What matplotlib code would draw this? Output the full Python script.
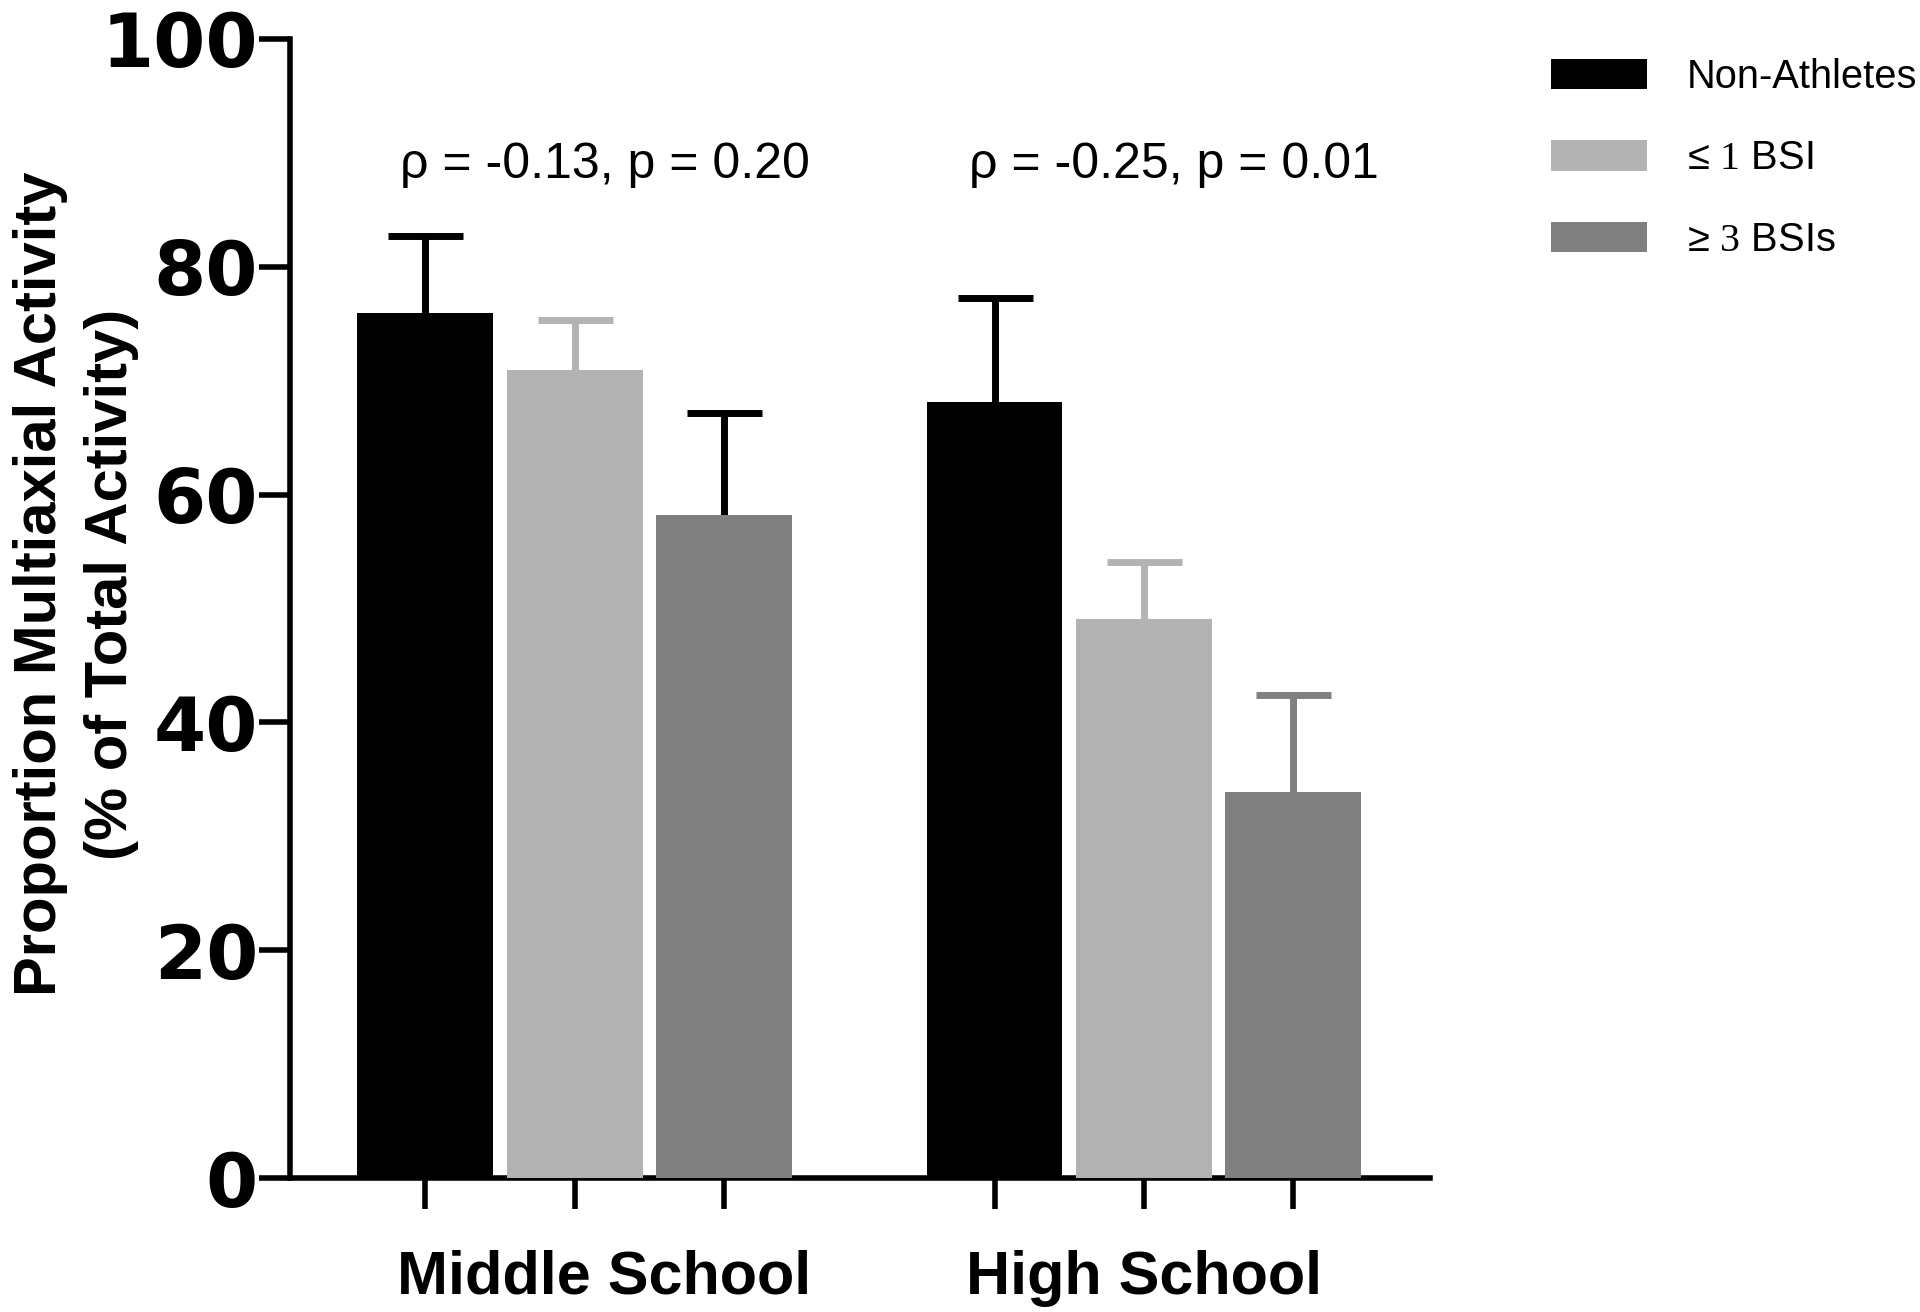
import numpy as np
import matplotlib
matplotlib.use("Agg")
import matplotlib.pyplot as plt

plt.rcParams['mathtext.fontset'] = 'custom'
plt.rcParams['mathtext.rm'] = 'Liberation Serif'

groups = ['Middle School', 'High School']
series = ['Non-Athletes', r'≤ $\mathrm{1}$ BSI', r'≥ $\mathrm{3}$ BSIs']
means = [[75.9, 68.1],
         [70.9, 49.1],
         [58.2, 33.9]]
sems = [[6.8, 9.2],
        [4.4, 5.0],
        [9.0, 8.5]]
stats = ['ρ = -0.13, p = 0.20', 'ρ = -0.25, p = 0.01']

bar_colors = ['#000000', '#b3b3b3', '#808080']
err_colors = [['#000000', '#000000'],
              ['#b3b3b3', '#b3b3b3'],
              ['#000000', '#808080']]

fig = plt.figure(figsize=(19.2, 13.12), dpi=100)
ax = fig.add_axes([290 / 1920, 134 / 1312, (1430 - 290) / 1920, (1178 - 39) / 1312])

group_gap = 1.81
width = 0.91
xs_all = []
for i, name in enumerate(series):
    xs = np.arange(len(groups)) * (len(series) - 1 + group_gap) + i
    xs_all.extend(xs)
    ax.bar(xs, means[i], width=width, color=bar_colors[i], zorder=3, label=name)
    for j in range(len(groups)):
        ax.errorbar(xs[j], means[i][j], yerr=sems[i][j], color=err_colors[i][j],
                    elinewidth=5, capsize=27, capthick=5, zorder=2,
                    solid_capstyle='round', dash_capstyle='round')

centers = np.arange(len(groups)) * (len(series) - 1 + group_gap) + 1
label_shift = [0.2, 0.0]
for j, g in enumerate(groups):
    ax.text(centers[j] + label_shift[j], -8.8, g, ha='center', va='center',
            fontsize=44, fontweight='bold', family='Liberation Sans')
    ax.text(centers[j] + 0.2, 88.9, stats[j], ha='center', va='center',
            fontsize=36, family='Liberation Sans')

ax.set_xlim(-0.906, 6.725)
ax.set_ylim(0, 100)
ax.set_xticks(sorted(xs_all))
ax.set_xticklabels([])
ax.set_yticks([0, 20, 40, 60, 80, 100])
ax.set_yticklabels(['0', '20', '40', '60', '80', '100'], fontsize=54,
                   fontweight='bold', family='DejaVu Sans')
ax.tick_params(axis='both', direction='out', length=22, width=4, color='black')
ax.tick_params(axis='y', pad=1)
for s in ['top', 'right']:
    ax.spines[s].set_visible(False)
for s in ['left', 'bottom']:
    ax.spines[s].set_linewidth(4)

fig.text(76 / 1920, 1 - 584 / 1312, 'Proportion Multiaxial Activity\n(% of Total Activity)',
         rotation=90, ha='center', va='center', multialignment='center',
         fontsize=43, fontweight='bold', family='Liberation Sans', linespacing=1.38)

fig.legend(loc='upper left', bbox_to_anchor=(1551 / 1920, 1 - 58 / 1312),
           frameon=False, prop={'family': 'Liberation Sans', 'size': 28.7},
           handlelength=2.4, handleheight=0.8, handletextpad=1.0,
           labelspacing=1.09, borderpad=0, borderaxespad=0)

fig.savefig('out.png', dpi=100, facecolor='white')
